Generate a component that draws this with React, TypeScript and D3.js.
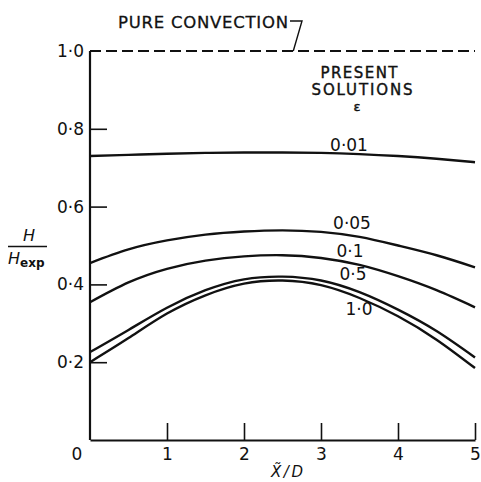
import { useEffect, useRef } from "react";
import * as d3 from "d3";

// x positions (X'/D) shared by all curves
const xs = [0, 0.5, 1, 1.5, 2, 2.5, 3, 3.5, 4, 4.5, 5];

// H / Hexp for each epsilon
const eps001 = [0.73, 0.733, 0.736, 0.738, 0.739, 0.739, 0.738, 0.735, 0.73, 0.723, 0.714];
const eps005 = [0.455, 0.49, 0.513, 0.528, 0.536, 0.539, 0.535, 0.522, 0.5, 0.475, 0.444];
const eps01 = [0.354, 0.405, 0.44, 0.461, 0.472, 0.475, 0.468, 0.45, 0.421, 0.385, 0.341];
const eps05 = [0.226, 0.283, 0.34, 0.385, 0.413, 0.42, 0.41, 0.38, 0.335, 0.28, 0.212];
const eps10 = [0.2, 0.262, 0.325, 0.372, 0.402, 0.41, 0.398, 0.365, 0.318, 0.258, 0.185];

const seriesNames = ["0·01", "0·05", "0·1", "0·5", "1·0"];
const seriesValues = [eps001, eps005, eps01, eps05, eps10];

const xTicks = [1, 2, 3, 4, 5];
const yTicks = [0.2, 0.4, 0.6, 0.8, 1.0];
const pureConvection = 1.0;

export default function App() {
    const ref = useRef<SVGSVGElement>(null);

    useEffect(() => {
        const width = 481;
        const height = 482;
        const font = "DejaVu Sans, sans-serif";

        const svg = d3.select(ref.current)
            .attr("width", width)
            .attr("height", height);

        svg.selectAll("*").remove();

        // Scales
        const x = d3.scaleLinear().domain([0, 5]).range([90, 475]);
        const y = d3.scaleLinear().domain([0, 1]).range([440, 51]);

        const fmt = (d: number) => d.toFixed(1).replace(".", "·");

        // Axes, ticks pointing inward
        const gx = svg.append("g")
            .attr("transform", `translate(0,${y(0)})`)
            .call(d3.axisBottom(x).tickValues(xTicks).tickSizeInner(-17).tickSizeOuter(0).tickPadding(8).tickFormat(d => String(d)));

        const gy = svg.append("g")
            .attr("transform", `translate(${x(0)},0)`)
            .call(d3.axisLeft(y).tickValues(yTicks).tickSizeInner(-17).tickSizeOuter(0).tickPadding(6).tickFormat(d => fmt(+d)));

        [gx, gy].forEach(g => {
            g.select(".domain").attr("stroke", "#111").attr("stroke-width", 2.2);
            g.selectAll(".tick line").attr("stroke", "#111").attr("stroke-width", 1.6);
            g.selectAll(".tick text")
                .attr("fill", "#111")
                .style("font-family", font)
                .style("font-size", "17px");
        });
        gy.select(".domain").attr("d", `M0,${y(0)}V${y(1)}`);
        gy.selectAll(".tick").filter(d => d === 1).select("line").remove();

        // origin label
        svg.append("text")
            .attr("x", x(0) - 13)
            .attr("y", y(0) + 20)
            .attr("text-anchor", "middle")
            .style("font-family", font)
            .style("font-size", "17px")
            .attr("fill", "#111")
            .text("0");

        // Pure convection dashed line
        svg.append("line")
            .attr("x1", x(0))
            .attr("x2", x(5))
            .attr("y1", y(pureConvection))
            .attr("y2", y(pureConvection))
            .attr("stroke", "#111")
            .attr("stroke-width", 1.8)
            .attr("stroke-dasharray", "11,5");

        svg.append("text")
            .attr("x", 118)
            .attr("y", 28)
            .style("font-family", font)
            .style("font-size", "16.5px")
            .attr("textLength", 170)
            .attr("fill", "#111")
            .attr("stroke", "#111")
            .attr("stroke-width", 0.3)
            .text("PURE CONVECTION");

        svg.append("path")
            .attr("d", `M290,21H302L${x(2.64)},${y(pureConvection)}`)
            .attr("fill", "none")
            .attr("stroke", "#111")
            .attr("stroke-width", 1.4);

        // Curves
        const line = d3.line<number>()
            .x((_, i) => x(xs[i]))
            .y(d => y(d))
            .curve(d3.curveNatural);

        svg.selectAll("path.curve")
            .data(seriesValues)
            .join("path")
            .attr("class", "curve")
            .attr("fill", "none")
            .attr("stroke", "#111")
            .attr("stroke-width", 2.4)
            .attr("d", d => line(d));

        // Curve labels
        const labelPos = [
            [349, 151],
            [352, 229],
            [350, 257],
            [353, 280],
            [359, 315]
        ];
        svg.selectAll("text.lab")
            .data(seriesNames)
            .join("text")
            .attr("class", "lab")
            .attr("x", (_, i) => labelPos[i][0])
            .attr("y", (_, i) => labelPos[i][1])
            .attr("text-anchor", "middle")
            .style("font-family", font)
            .style("font-size", "17px")
            .attr("fill", "#111")
            .text(d => d);

        // Legend heading
        const head = svg.append("g")
            .attr("fill", "#111")
            .attr("stroke", "#111")
            .attr("stroke-width", 0.4)
            .style("font-family", font)
            .attr("text-anchor", "middle");
        head.append("text").attr("x", 359).attr("y", 78).style("font-size", "15px").attr("textLength", 77).text("PRESENT");
        head.append("text").attr("x", 362).attr("y", 95).style("font-size", "15px").attr("textLength", 101).text("SOLUTIONS");
        head.append("text").attr("x", 357).attr("y", 111).style("font-size", "13px").text("ε");

        // Y label as fraction
        const yl = svg.append("g").attr("fill", "#111").style("font-family", font);
        yl.append("text").attr("x", 29).attr("y", 241).attr("text-anchor", "middle")
            .style("font-size", "16px").style("font-style", "italic").text("H");
        yl.append("line").attr("x1", 8).attr("x2", 47).attr("y1", 246.5).attr("y2", 246.5)
            .attr("stroke", "#111").attr("stroke-width", 1.6);
        const hexp = yl.append("text").attr("x", 8).attr("y", 264);
        hexp.append("tspan").style("font-size", "16px").style("font-style", "italic").text("H");
        hexp.append("tspan").attr("dy", 3).style("font-size", "12px").style("font-weight", "bold").text("exp");

        // X label
        svg.append("text")
            .attr("x", 287)
            .attr("y", 477)
            .attr("text-anchor", "middle")
            .style("font-family", font)
            .style("font-size", "15px")
            .style("font-style", "italic")
            .attr("textLength", 32)
            .attr("fill", "#111")
            .text("X̃/D");
    }, []);

    return <svg ref={ref} style={{ position: "absolute", left: 0, top: 0, background: "#fff" }}></svg>;
}
